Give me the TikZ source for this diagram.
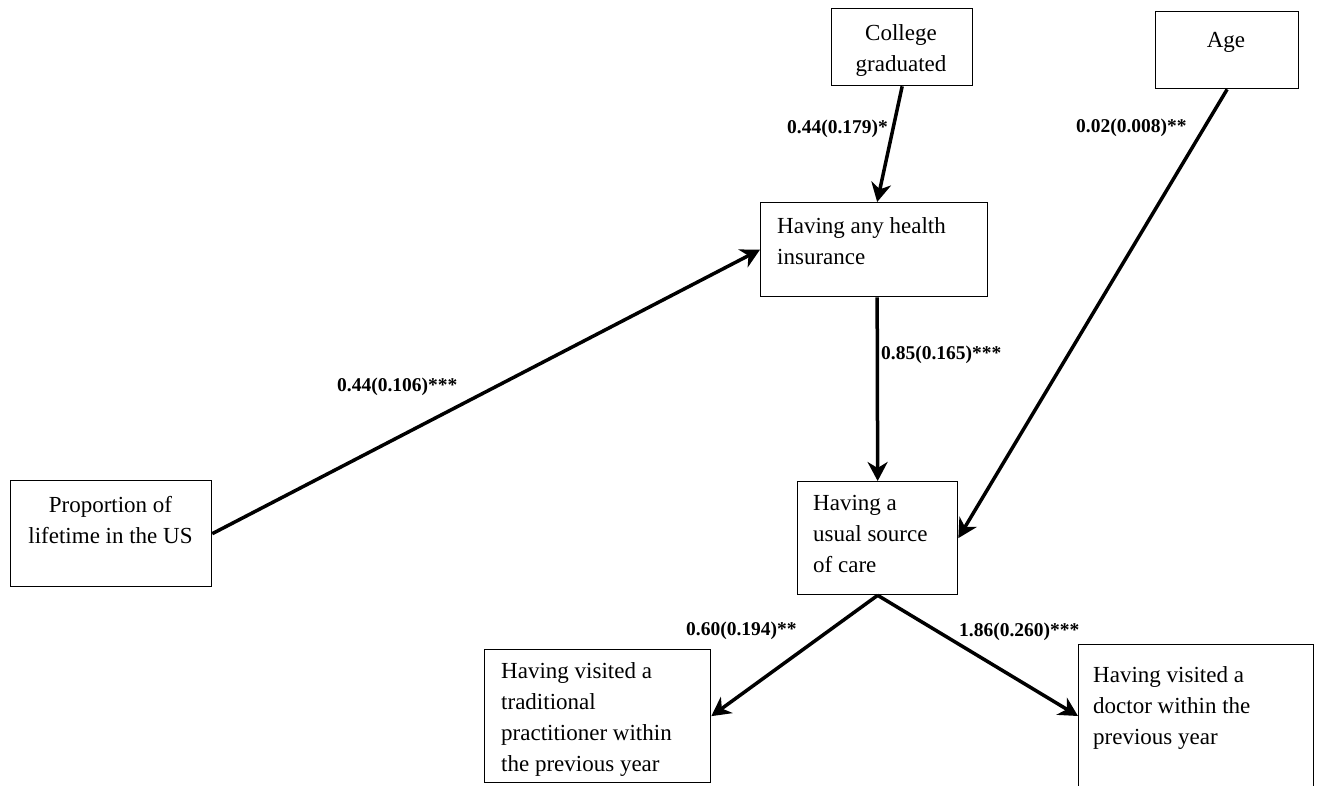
\documentclass[tikz,border=0pt]{standalone}
\usepackage{fontspec}
\setmainfont{Liberation Serif}
\usetikzlibrary{arrows.meta}
\begin{document}
\begin{tikzpicture}[x=1pt,y=-1pt,
 box/.style={draw, line width=1.3pt, anchor=north west, inner sep=0pt},
 txt/.style={anchor=north west, inner sep=0pt, align=left, font=\fontsize{23}{31}\selectfont},
 ctxt/.style={anchor=north, inner sep=0pt, align=center, font=\fontsize{23}{31}\selectfont},
 lab/.style={anchor=west, inner sep=0pt, font=\fontsize{19.5}{23}\selectfont\bfseries},
 arr/.style={line width=3.5pt, -{Stealth[length=19pt,width=20pt,inset=6pt]}}]
\useasboundingbox[fill=white] (0,0) rectangle (1321,785);
% boxes
\node[box, minimum width=141pt, minimum height=77pt] (col) at (831,8) {};
\node[box, minimum width=143pt, minimum height=77pt] (age) at (1155,11) {};
\node[box, minimum width=227pt, minimum height=94pt] (ins) at (760,202) {};
\node[box, minimum width=201pt, minimum height=106pt] (prop) at (10,480) {};
\node[box, minimum width=160pt, minimum height=113pt] (care) at (797,481) {};
\node[box, minimum width=226pt, minimum height=133pt] (trad) at (484,649) {};
\node[box, minimum width=235pt, minimum height=160pt] (doc) at (1078,644) {};
% texts
\node[ctxt] (tcol) at (901,18.3) {\strut College\\graduated};
\node[ctxt] (tage) at (1226,25.3) {\strut Age};
\node[txt] (tins) at (777,211.5) {\strut Having any health\\insurance};
\node[ctxt] (tprop) at (110.5,490.3) {\strut Proportion of\\lifetime in the US};
\node[txt] (tcare) at (813,488.3) {\strut Having a\\usual source\\of care};
\node[txt] (ttrad) at (501,656.3) {\strut Having visited a\\traditional\\practitioner within\\the previous year};
\node[txt] (tdoc) at (1093,660.3) {\strut Having visited a\\doctor within the\\previous year};
% arrows
\draw[arr] (col.south) -- ([xshift=3pt]ins.north);
\draw[arr] (age.south) -- (care.east);
\draw[arr] (prop.east) -- (ins.west);
\draw[arr] ([xshift=3pt]ins.south) -- (care.north);
\draw[arr] (care.south) -- (trad.east);
\draw[arr] (care.south) -- ([yshift=-72pt]doc.north west);
% labels
\node[lab] (l1) at (787,129) {0.44(0.179)*};
\node[lab] (l2) at (1076,128) {0.02(0.008)**};
\node[lab] (l3) at (337,387) {0.44(0.106)***};
\node[lab] (l4) at (881,355) {0.85(0.165)***};
\node[lab] (l5) at (686,631) {0.60(0.194)**};
\node[lab] (l6) at (959,632) {1.86(0.260)***};
\end{tikzpicture}
\end{document}
